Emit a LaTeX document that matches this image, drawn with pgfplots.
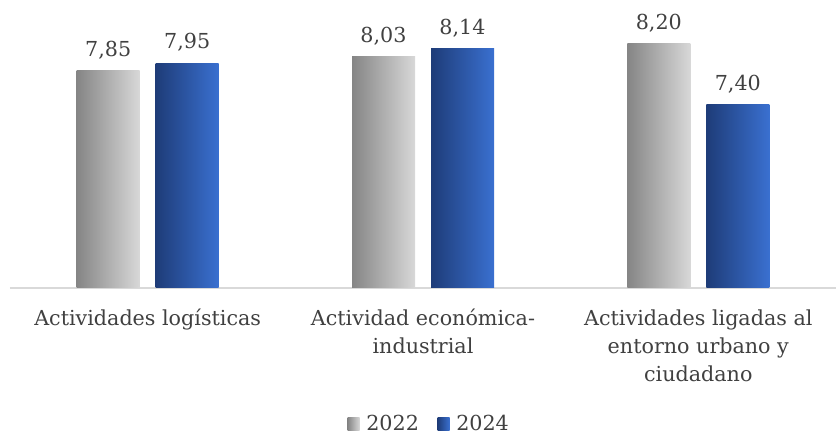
\documentclass[border=0pt]{standalone}
\usepackage{fontspec}
\setmainfont{DejaVu Serif}
\usepackage{pgfplots}
\pgfplotsset{compat=1.18}
\definecolor{txt}{HTML}{404040}
\definecolor{axisgray}{HTML}{D9D9D9}
\definecolor{g1}{HTML}{858585}
\definecolor{g2}{HTML}{D8D8D8}
\definecolor{b1}{HTML}{1E3C78}
\definecolor{b2}{HTML}{3A70D0}
\newcommand{\lblfont}{\fontsize{15.5}{21}\selectfont}
\begin{document}
\begin{tikzpicture}
\begin{axis}[
  scale only axis, width=619.5pt, height=216pt,
  ybar, bar width=47.25pt,
  xmin=-0.5, xmax=2.5, ymin=5, ymax=8.777,
  axis y line=none,
  axis x line*=bottom,
  x axis line style={draw=axisgray, line width=1.5pt},
  xtick={0,1,2}, major tick length=0pt,
  xticklabels={Actividades logísticas, {Actividad económica-\\industrial}, {Actividades ligadas al\\entorno urbano y\\ciudadano}},
  xticklabel style={align=center, font=\lblfont, text=txt, anchor=north, yshift=-12.5pt},
  /pgf/number format/assume math mode=true,
  /pgf/number format/.cd, use comma, fixed, fixed zerofill, precision=2, /pgfplots/.cd,
  nodes near coords,
  nodes near coords style={font=\lblfont, text=txt, yshift=5pt},
  clip=false,
  legend style={at={(0.508,-0.472)}, anchor=center, draw=none, legend columns=2, font=\lblfont, text=txt,
    /tikz/every odd column/.append style={column sep=3pt},
    /tikz/every even column/.append style={column sep=12pt}},
  legend image code/.code={\path[#1] (0pt,-4.8pt) rectangle (9pt,4.8pt);},
]
\addplot[draw=none, left color=g1, right color=g2, bar shift=-29.625pt] coordinates {(0,7.85)};
\addlegendentry{2022}
\addplot[draw=none, left color=b1, right color=b2, bar shift=29.625pt] coordinates {(0,7.95)};
\addlegendentry{2024}
\addplot[forget plot, draw=none, left color=g1, right color=g2, bar shift=-29.625pt] coordinates {(1,8.03)};
\addplot[forget plot, draw=none, left color=b1, right color=b2, bar shift=29.625pt] coordinates {(1,8.14)};
\addplot[forget plot, draw=none, left color=g1, right color=g2, bar shift=-29.625pt] coordinates {(2,8.20)};
\addplot[forget plot, draw=none, left color=b1, right color=b2, bar shift=29.625pt] coordinates {(2,7.40)};
\end{axis}
\pgfresetboundingbox
\path[use as bounding box] (-7.5pt,-109.5pt) rectangle (619.5pt,216pt);
\end{tikzpicture}
\end{document}
